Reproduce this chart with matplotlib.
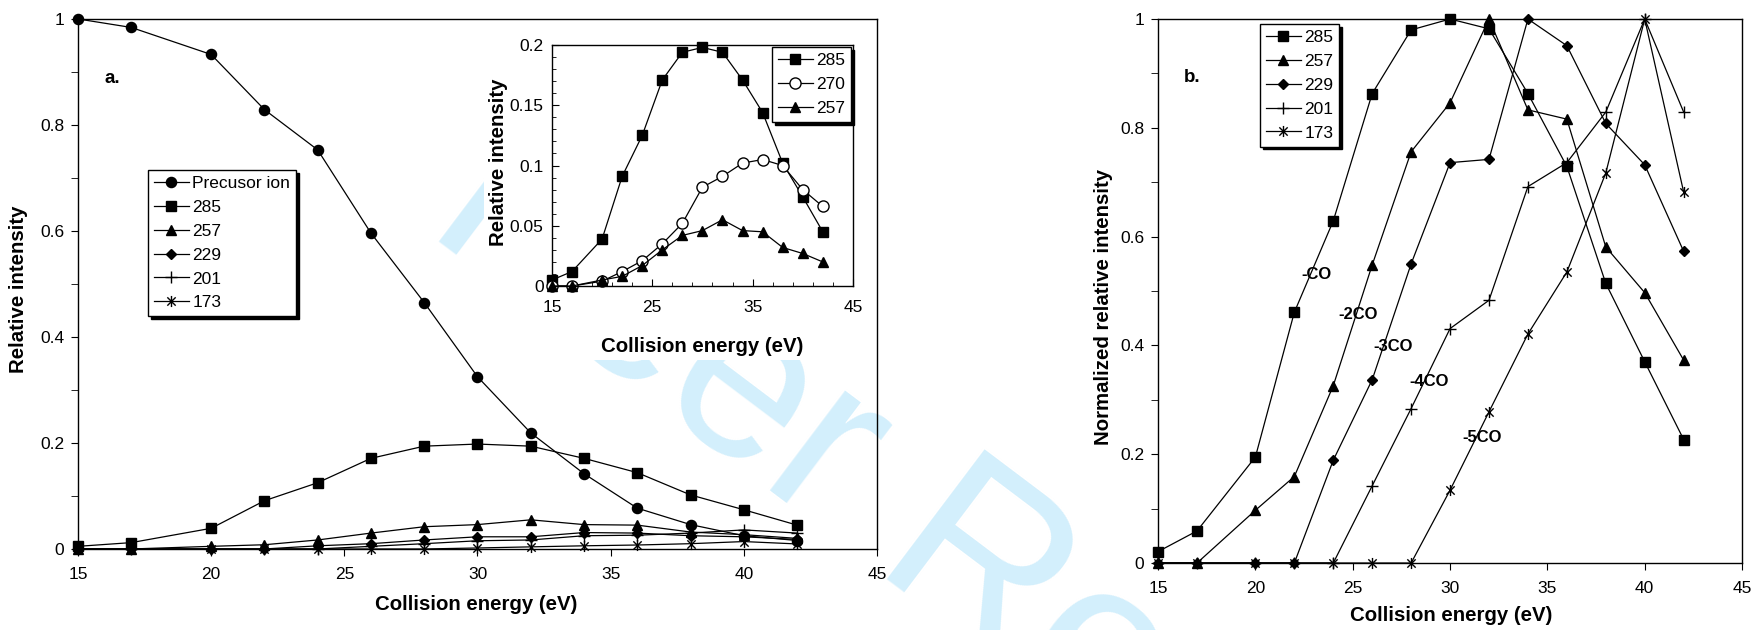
import matplotlib
matplotlib.use("Agg")
import matplotlib.pyplot as plt
from matplotlib.path import Path
from matplotlib.patches import Rectangle
from matplotlib.ticker import MultipleLocator, FuncFormatter

plt.rcParams['font.family'] = ['Liberation Sans', 'DejaVu Sans']

# collision energies (eV)
energy = [15, 17, 20, 22, 24, 26, 28, 30, 32, 34, 36, 38, 40, 42]

# panel a: relative intensity
precursor = [1.0, 0.984, 0.933, 0.829, 0.753, 0.596, 0.465, 0.325, 0.219, 0.142, 0.077, 0.046, 0.025, 0.016]
ion285 = [0.005, 0.012, 0.039, 0.091, 0.125, 0.171, 0.194, 0.198, 0.194, 0.171, 0.144, 0.102, 0.074, 0.045]
ion257 = [0.0, 0.0, 0.005, 0.008, 0.017, 0.030, 0.042, 0.046, 0.055, 0.046, 0.045, 0.032, 0.027, 0.020]
ion229 = [0.0, 0.0, 0.0, 0.0, 0.006, 0.010, 0.017, 0.023, 0.023, 0.031, 0.030, 0.025, 0.023, 0.018]
ion201 = [0.0, 0.0, 0.0, 0.0, 0.0, 0.005, 0.010, 0.0155, 0.017, 0.025, 0.026, 0.030, 0.036, 0.030]
ion173 = [0.0, 0.0, 0.0, 0.0, 0.0, 0.0, 0.0, 0.0019, 0.004, 0.006, 0.0075, 0.010, 0.014, 0.0095]

# inset
ion270 = [0.0, 0.0, 0.004, 0.012, 0.021, 0.035, 0.052, 0.082, 0.091, 0.102, 0.105, 0.100, 0.080, 0.066]

# panel b: normalized relative intensity
norm285 = [0.021, 0.059, 0.195, 0.461, 0.629, 0.863, 0.980, 1.0, 0.982, 0.863, 0.729, 0.514, 0.370, 0.227]
norm257 = [0.0, 0.0, 0.097, 0.159, 0.326, 0.548, 0.756, 0.846, 1.0, 0.833, 0.816, 0.581, 0.497, 0.373]
norm229 = [0.0, 0.0, 0.0, 0.0, 0.189, 0.337, 0.550, 0.736, 0.742, 1.0, 0.951, 0.808, 0.732, 0.573]
norm201 = [0.0, 0.0, 0.0, 0.0, 0.0, 0.142, 0.284, 0.431, 0.483, 0.692, 0.736, 0.829, 1.0, 0.829]
norm173 = [0.0, 0.0, 0.0, 0.0, 0.0, 0.0, 0.0, 0.134, 0.278, 0.421, 0.535, 0.717, 1.0, 0.682]

loss_labels = ['-CO', '-2CO', '-3CO', '-4CO', '-5CO']
loss_pos = [(22.35, 0.522), (24.25, 0.449), (26.05, 0.390), (27.9, 0.325), (30.65, 0.222)]

# asterisk like the excel one: vertical bar plus an x
asterisk = Path([(0, -1), (0, 1), (-0.75, -0.75), (0.75, 0.75), (-0.75, 0.75), (0.75, -0.75)],
                [Path.MOVETO, Path.LINETO] * 3)

st = {
    'prec': dict(marker='o', ms=7.3),
    '285': dict(marker='s', ms=7.0),
    '257': dict(marker='^', ms=7.5),
    '229': dict(marker='D', ms=5.0),
    '201': dict(marker='+', ms=8.0, mew=1.0),
    '173': dict(marker=asterisk, ms=8.0, mew=1.0),
    '270': dict(marker='o', ms=8.0, mfc='white', mew=1.0),
}
base = dict(color='black', lw=0.9, clip_on=False)
fmt = FuncFormatter(lambda v, p: f'{v:g}')

fig = plt.figure(figsize=(17.6, 6.3), dpi=100)

# review watermark, sitting under the charts (only this part of it is in the crop)
fig.text(0.2406, 0.6357, 'Peer Review', fontsize=169, color='#d3effc', rotation=-37,
         rotation_mode='anchor', ha='left', va='baseline', zorder=-2)
# the inset chart has its own white chart area that hides the watermark
fig.add_artist(Rectangle((484 / 1760, 1 - 360 / 630), (876 - 484) / 1760, 360 / 630,
                         transform=fig.transFigure, facecolor='white', edgecolor='none', zorder=-1))

ax_a = fig.add_axes([0.0443, 0.1286, 0.454, 0.8413])
ax_b = fig.add_axes([0.658, 0.1063, 0.3318, 0.8635])
ax_in = fig.add_axes([0.3136, 0.546, 0.171, 0.3825])
ax_a.set_facecolor('none')
ax_b.set_facecolor('none')

leg_kw = dict(loc='upper left', bbox_transform=fig.transFigure, borderaxespad=0,
              fontsize=12.5, frameon=True, fancybox=False, edgecolor='black',
              framealpha=1, shadow={'color': 'black', 'alpha': 1},
              handlelength=2.0, handletextpad=0.2, labelspacing=0.5, borderpad=0.35)

# ---- panel a
ax_a.plot(energy, precursor, label='Precusor ion', **base, **st['prec'])
ax_a.plot(energy, ion285, label='285', **base, **st['285'])
ax_a.plot(energy, ion257, label='257', **base, **st['257'])
ax_a.plot(energy, ion229, label='229', **base, **st['229'])
ax_a.plot(energy, ion201, label='201', **base, **st['201'])
ax_a.plot(energy, ion173, label='173', **base, **st['173'])
ax_a.set_xlim(15, 45)
ax_a.set_ylim(0, 1)
ax_a.xaxis.set_major_locator(MultipleLocator(5))
ax_a.yaxis.set_major_locator(MultipleLocator(0.2))
ax_a.yaxis.set_minor_locator(MultipleLocator(0.1))
ax_a.yaxis.set_major_formatter(fmt)
ax_a.tick_params(which='both', direction='out', labelsize=12.5)
ax_a.tick_params(axis='x', length=5, pad=8)
ax_a.tick_params(axis='y', which='both', length=5, pad=5)
ax_a.set_xlabel('Collision energy (eV)', fontsize=14.7, fontweight='bold', va='center')
ax_a.set_ylabel('Relative intensity', fontsize=14.7, fontweight='bold', va='center')
ax_a.xaxis.set_label_coords(0.498, -0.104)
ax_a.yaxis.set_label_coords(-0.074, 0.49)
ax_a.text(16.0, 0.88, 'a.', fontsize=13.5, fontweight='bold')
ax_a.legend(bbox_to_anchor=(0.0841, 0.7302), **leg_kw)

# ---- inset
ax_in.plot(energy, ion285, label='285', **base, **st['285'])
ax_in.plot(energy, ion270, label='270', **base, **st['270'])
ax_in.plot(energy, ion257, label='257', **base, **st['257'])
ax_in.set_xlim(15, 45)
ax_in.set_ylim(0, 0.2)
ax_in.xaxis.set_major_locator(MultipleLocator(10, offset=5))
ax_in.xaxis.set_minor_locator(MultipleLocator(2, offset=1))
ax_in.yaxis.set_major_locator(MultipleLocator(0.05))
ax_in.yaxis.set_minor_locator(MultipleLocator(0.01))
ax_in.yaxis.set_major_formatter(fmt)
ax_in.tick_params(which='both', direction='in', labelsize=12.5)
ax_in.tick_params(which='major', length=5)
ax_in.tick_params(which='minor', length=3)
ax_in.tick_params(axis='x', pad=10)
ax_in.tick_params(axis='y', pad=6)
ax_in.set_xlabel('Collision energy (eV)', fontsize=14.7, fontweight='bold', va='center')
ax_in.set_ylabel('Relative intensity', fontsize=14.7, fontweight='bold', va='center')
ax_in.xaxis.set_label_coords(0.5, -0.249)
ax_in.yaxis.set_label_coords(-0.176, 0.515)
ax_in.legend(bbox_to_anchor=(0.4386, 0.9254), **leg_kw)

# ---- panel b
ax_b.plot(energy, norm285, label='285', **base, **st['285'])
ax_b.plot(energy, norm257, label='257', **base, **st['257'])
ax_b.plot(energy, norm229, label='229', **base, **st['229'])
ax_b.plot(energy, norm201, label='201', **base, **st['201'])
ax_b.plot(energy, norm173, label='173', **base, **st['173'])
ax_b.set_xlim(15, 45)
ax_b.set_ylim(0, 1)
ax_b.xaxis.set_major_locator(MultipleLocator(5))
ax_b.yaxis.set_major_locator(MultipleLocator(0.2))
ax_b.yaxis.set_minor_locator(MultipleLocator(0.1))
ax_b.yaxis.set_major_formatter(fmt)
ax_b.tick_params(which='both', direction='out', labelsize=12.5)
ax_b.tick_params(axis='x', length=5, pad=8)
ax_b.tick_params(axis='y', which='both', length=5, pad=5)
ax_b.set_xlabel('Collision energy (eV)', fontsize=14.7, fontweight='bold', va='center')
ax_b.set_ylabel('Normalized relative intensity', fontsize=14.7, fontweight='bold', va='center')
ax_b.xaxis.set_label_coords(0.502, -0.097)
ax_b.yaxis.set_label_coords(-0.094, 0.47)
ax_b.text(16.3, 0.884, 'b.', fontsize=13.5, fontweight='bold')
for lab, (x, y) in zip(loss_labels, loss_pos):
    ax_b.text(x, y, lab, fontsize=12, fontweight='bold')
ax_b.legend(bbox_to_anchor=(0.7159, 0.9619), **leg_kw)

for ax in (ax_a, ax_b, ax_in):
    for sp in ax.spines.values():
        sp.set_linewidth(1.0)

fig.savefig('out.png', dpi=100)
